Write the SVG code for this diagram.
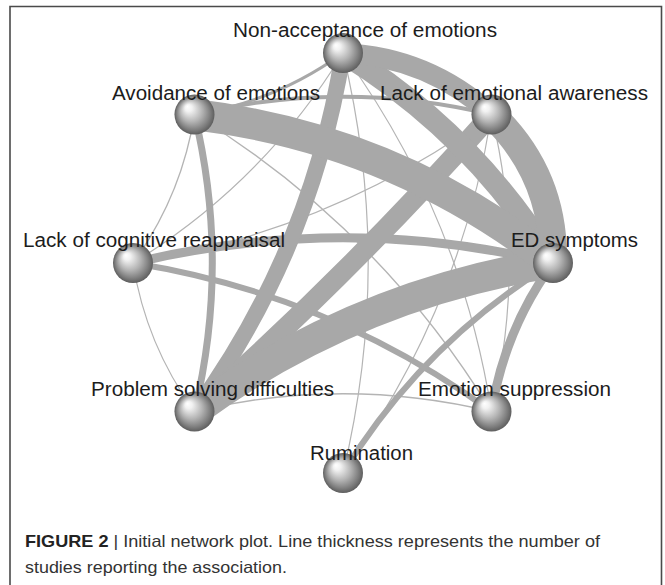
<svg xmlns="http://www.w3.org/2000/svg" width="665" height="585" viewBox="0 0 665 585">
<defs>
<radialGradient id="ball" cx="0.5" cy="0.5" r="0.5" fx="0.32" fy="0.3">
<stop offset="0" stop-color="#ffffff"/>
<stop offset="0.18" stop-color="#f2f2f2"/>
<stop offset="0.55" stop-color="#b4b4b4"/>
<stop offset="0.85" stop-color="#7c7c7c"/>
<stop offset="1" stop-color="#5e5e5e"/>
</radialGradient>
</defs>
<style>
.e{fill:none;stroke:#a8a8a8;stroke-linecap:butt}
.t{stroke:#b4b4b4}
.lbl{font-family:"Liberation Sans",Arial,Helvetica,sans-serif;font-size:20px;fill:#1c1c1c}
.cap{font-family:"Liberation Sans",Arial,Helvetica,sans-serif;font-size:16.5px;fill:#333}
.ball{fill:url(#ball)}
</style>
<rect width="665" height="585" fill="#ffffff"/>
<path d="M10,585 V6.5 H661.5 V585" fill="none" stroke="#4a4a4a" stroke-width="1.6"/>
<g id="connectors">
<path class="e t" stroke-width="1.4" d="M194.5,114.5 Q181.6,196.1 133,263"/>
<path class="e t" stroke-width="1.2" d="M343,53 Q263.2,183.2 133,263"/>
<path class="e t" stroke-width="1.2" d="M343,53 Q393.4,263 343,473"/>
<path class="e t" stroke-width="1.2" d="M343,53 Q460.3,214.4 491.5,411.5"/>
<path class="e t" stroke-width="1.4" d="M194.5,114.5 Q378.6,227.4 491.5,411.5"/>
<path class="e t" stroke-width="1.2" d="M194.5,411.5 Q145.9,344.6 133,263"/>
<path class="e t" stroke-width="1.2" d="M491.5,114.5 Q330.1,231.8 133,263"/>
<path class="e t" stroke-width="1.4" d="M194.5,411.5 Q343,375.9 491.5,411.5"/>
<path class="e t" stroke-width="1.2" d="M491.5,114.5 Q460.3,311.6 343,473"/>
<path class="e t" stroke-width="1.2" d="M491.5,114.5 Q527.1,263 491.5,411.5"/>
<path class="e" stroke-width="3" d="M343,53 Q276.1,101.6 194.5,114.5"/>
<path class="e" stroke-width="4" d="M194.5,114.5 Q343,78.9 491.5,114.5"/>
<path class="e" stroke-width="6" d="M343,473 Q422.8,342.8 553,263"/>
<path class="e" stroke-width="6" d="M133,263 Q330.1,294.2 491.5,411.5"/>
<path class="e" stroke-width="7" d="M194.5,114.5 Q230.1,263 194.5,411.5"/>
<path class="e" stroke-width="9" d="M491.5,411.5 Q504.4,329.9 553,263"/>
<path class="e" stroke-width="9" d="M133,263 Q343,212.6 553,263"/>
<path class="e" stroke-width="16" d="M343,53 Q311.8,250.1 194.5,411.5"/>
<path class="e" stroke-width="20" d="M491.5,114.5 Q351.9,271.9 194.5,411.5"/>
<path class="e" stroke-width="22" d="M343,53 Q473.2,132.8 553,263"/>
<path class="e" stroke-width="28" d="M491.5,114.5 Q555,175.2 553,263"/>
<path class="e" stroke-width="20" d="M343,53 Q428.3,57 491.5,114.5"/>
<path class="e" stroke-width="30" d="M194.5,411.5 Q355.9,294.2 553,263"/>
<path class="e" stroke-width="31" d="M194.5,114.5 Q394.5,138.6 553,263"/>
</g>
<g id="node-ed"><circle class="ball" cx="553" cy="263" r="20"/><text class="lbl" x="511" y="247" textLength="127" lengthAdjust="spacingAndGlyphs">ED symptoms</text></g>
<g id="node-na"><circle class="ball" cx="343" cy="53" r="20"/><text class="lbl" x="233" y="37" textLength="264" lengthAdjust="spacingAndGlyphs">Non-acceptance of emotions</text></g>
<g id="node-ae"><circle class="ball" cx="194.5" cy="114.5" r="20"/><text class="lbl" x="112" y="100" textLength="208" lengthAdjust="spacingAndGlyphs">Avoidance of emotions</text></g>
<g id="node-lea"><circle class="ball" cx="491.5" cy="114.5" r="20"/><text class="lbl" x="380" y="100" textLength="268" lengthAdjust="spacingAndGlyphs">Lack of emotional awareness</text></g>
<g id="node-lcr"><circle class="ball" cx="133" cy="263" r="20"/><text class="lbl" x="23" y="247" textLength="262" lengthAdjust="spacingAndGlyphs">Lack of cognitive reappraisal</text></g>
<g id="node-psd"><circle class="ball" cx="194.5" cy="411.5" r="20"/><text class="lbl" x="91" y="396" textLength="243" lengthAdjust="spacingAndGlyphs">Problem solving difficulties</text></g>
<g id="node-es"><circle class="ball" cx="491.5" cy="411.5" r="20"/><text class="lbl" x="418" y="396" textLength="193" lengthAdjust="spacingAndGlyphs">Emotion suppression</text></g>
<g id="node-rum"><circle class="ball" cx="343" cy="473" r="20"/><text class="lbl" x="310" y="460" textLength="103" lengthAdjust="spacingAndGlyphs">Rumination</text></g>
<g id="caption">
<text class="cap" x="25" y="547" textLength="575" lengthAdjust="spacingAndGlyphs"><tspan font-weight="bold" fill="#222">FIGURE 2</tspan> | Initial network plot. Line thickness represents the number of</text>
<text class="cap" x="25" y="573" textLength="262" lengthAdjust="spacingAndGlyphs">studies reporting the association.</text>
</g>
</svg>
